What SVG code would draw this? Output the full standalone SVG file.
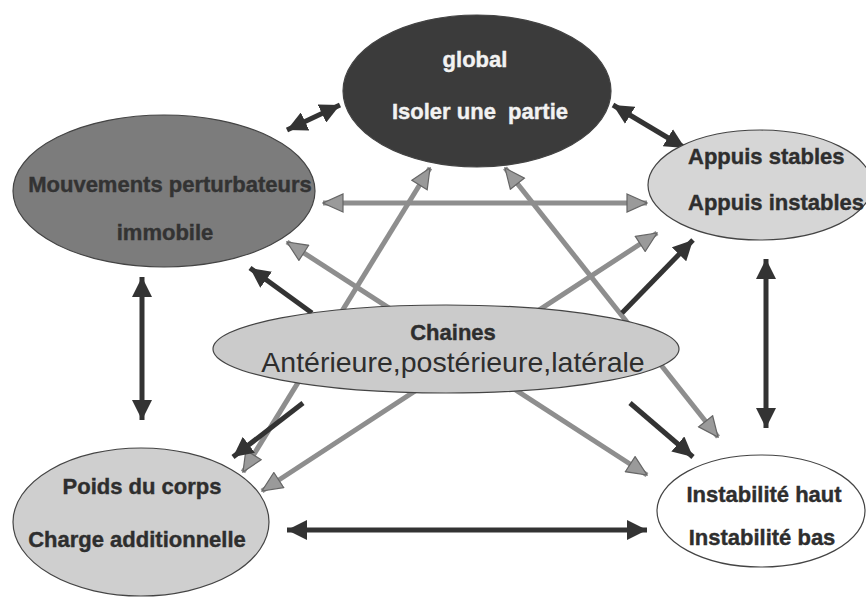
<svg xmlns="http://www.w3.org/2000/svg" width="866" height="597" viewBox="0 0 866 597">
  <style>
    .dark { stroke: #333; stroke-width: 5; fill: none; }
    .gray { stroke: #8e8e8e; stroke-width: 5; fill: none; }
    .lbl { font-family: "Liberation Sans", Arial, sans-serif; font-weight: bold; font-size: 22px; fill: #2e2e2e; stroke: #2e2e2e; stroke-width: 0.4; text-anchor: middle; }
    .node { stroke: #444; stroke-width: 1.2; }
  </style>
  <defs>
    <marker id="ad" markerUnits="userSpaceOnUse" viewBox="0 0 20 20" refX="20" refY="10" markerWidth="20" markerHeight="20" orient="auto-start-reverse">
      <path d="M0,0 L20,10 L0,20 z" fill="#333"/>
    </marker>
    <marker id="ag" markerUnits="userSpaceOnUse" viewBox="0 0 22 20" refX="21" refY="10" markerWidth="22" markerHeight="20" orient="auto-start-reverse">
      <path d="M1,1 L21,10 L1,19 z" fill="#9a9a9a" stroke="#666" stroke-width="1.2"/>
    </marker>
  </defs>
  <rect width="866" height="597" fill="#fff"/>

  <g id="connectors">
    <!-- gray double arrows (behind Chaines) -->
    <line class="gray" x1="323" y1="203" x2="647" y2="203" marker-start="url(#ag)" marker-end="url(#ag)"/>
    <line class="gray" x1="430" y1="168" x2="243" y2="472" marker-start="url(#ag)" marker-end="url(#ag)"/>
    <line class="gray" x1="505" y1="168" x2="718" y2="437" marker-start="url(#ag)" marker-end="url(#ag)"/>
    <line class="gray" x1="287" y1="242" x2="647" y2="475" marker-start="url(#ag)" marker-end="url(#ag)"/>
    <line class="gray" x1="657" y1="233" x2="262" y2="491" marker-start="url(#ag)" marker-end="url(#ag)"/>
    <!-- dark double arrows -->
    <line class="dark" x1="287" y1="130" x2="340" y2="105" marker-start="url(#ad)" marker-end="url(#ad)"/>
    <line class="dark" x1="613" y1="105" x2="685" y2="148" marker-start="url(#ad)" marker-end="url(#ad)"/>
    <line class="dark" x1="142" y1="277" x2="142" y2="420" marker-start="url(#ad)" marker-end="url(#ad)"/>
    <line class="dark" x1="766" y1="259" x2="766" y2="428" marker-start="url(#ad)" marker-end="url(#ad)"/>
    <line class="dark" x1="287" y1="530" x2="647" y2="530" marker-start="url(#ad)" marker-end="url(#ad)"/>
    <!-- dark single arrows from Chaines -->
    <line class="dark" x1="312" y1="313" x2="250" y2="268" marker-end="url(#ad)"/>
    <line class="dark" x1="622" y1="313" x2="693" y2="240" marker-end="url(#ad)"/>
    <line class="dark" x1="303" y1="403" x2="233" y2="457" marker-end="url(#ad)"/>
    <line class="dark" x1="630" y1="403" x2="693" y2="457" marker-end="url(#ad)"/>
  </g>

  <g id="global">
    <ellipse class="node" cx="477" cy="91" rx="134" ry="76" fill="#3b3b3b"/>
    <text class="lbl" x="475" y="67" style="fill:#f2f2f2;stroke:#f2f2f2">global</text>
    <text class="lbl" x="480" y="119" style="fill:#f2f2f2;stroke:#f2f2f2" xml:space="preserve">Isoler une  partie</text>
  </g>

  <g id="mouvements">
    <ellipse class="node" cx="164" cy="191" rx="151" ry="76" fill="#7c7c7c"/>
    <text class="lbl" x="170" y="192" style="fill:#333;stroke:#333">Mouvements perturbateurs</text>
    <text class="lbl" x="165" y="240" style="fill:#333;stroke:#333">immobile</text>
  </g>

  <g id="appuis">
    <ellipse class="node" cx="760" cy="185" rx="112" ry="55" fill="#d6d6d6"/>
    <text class="lbl" x="688" y="164" style="text-anchor:start">Appuis stables</text>
    <text class="lbl" x="688" y="210" style="text-anchor:start">Appuis instables</text>
  </g>

  <g id="chaines">
    <ellipse class="node" cx="446" cy="349" rx="233" ry="44" fill="#cbcbcb"/>
    <text class="lbl" x="453" y="340">Chaines</text>
    <text x="453" y="372" style="font-family:'Liberation Sans', Arial, sans-serif; font-size:28.5px; fill:#2e2e2e; text-anchor:middle">Antérieure,postérieure,latérale</text>
  </g>

  <g id="poids">
    <ellipse class="node" cx="141" cy="522" rx="128" ry="74" fill="#cfcfcf"/>
    <text class="lbl" x="142" y="494">Poids du corps</text>
    <text class="lbl" x="137" y="547">Charge additionnelle</text>
  </g>

  <g id="instabilite">
    <ellipse class="node" cx="761" cy="511" rx="104" ry="56" fill="#ffffff"/>
    <text class="lbl" x="764" y="502">Instabilité haut</text>
    <text class="lbl" x="762" y="545">Instabilité bas</text>
  </g>
</svg>
